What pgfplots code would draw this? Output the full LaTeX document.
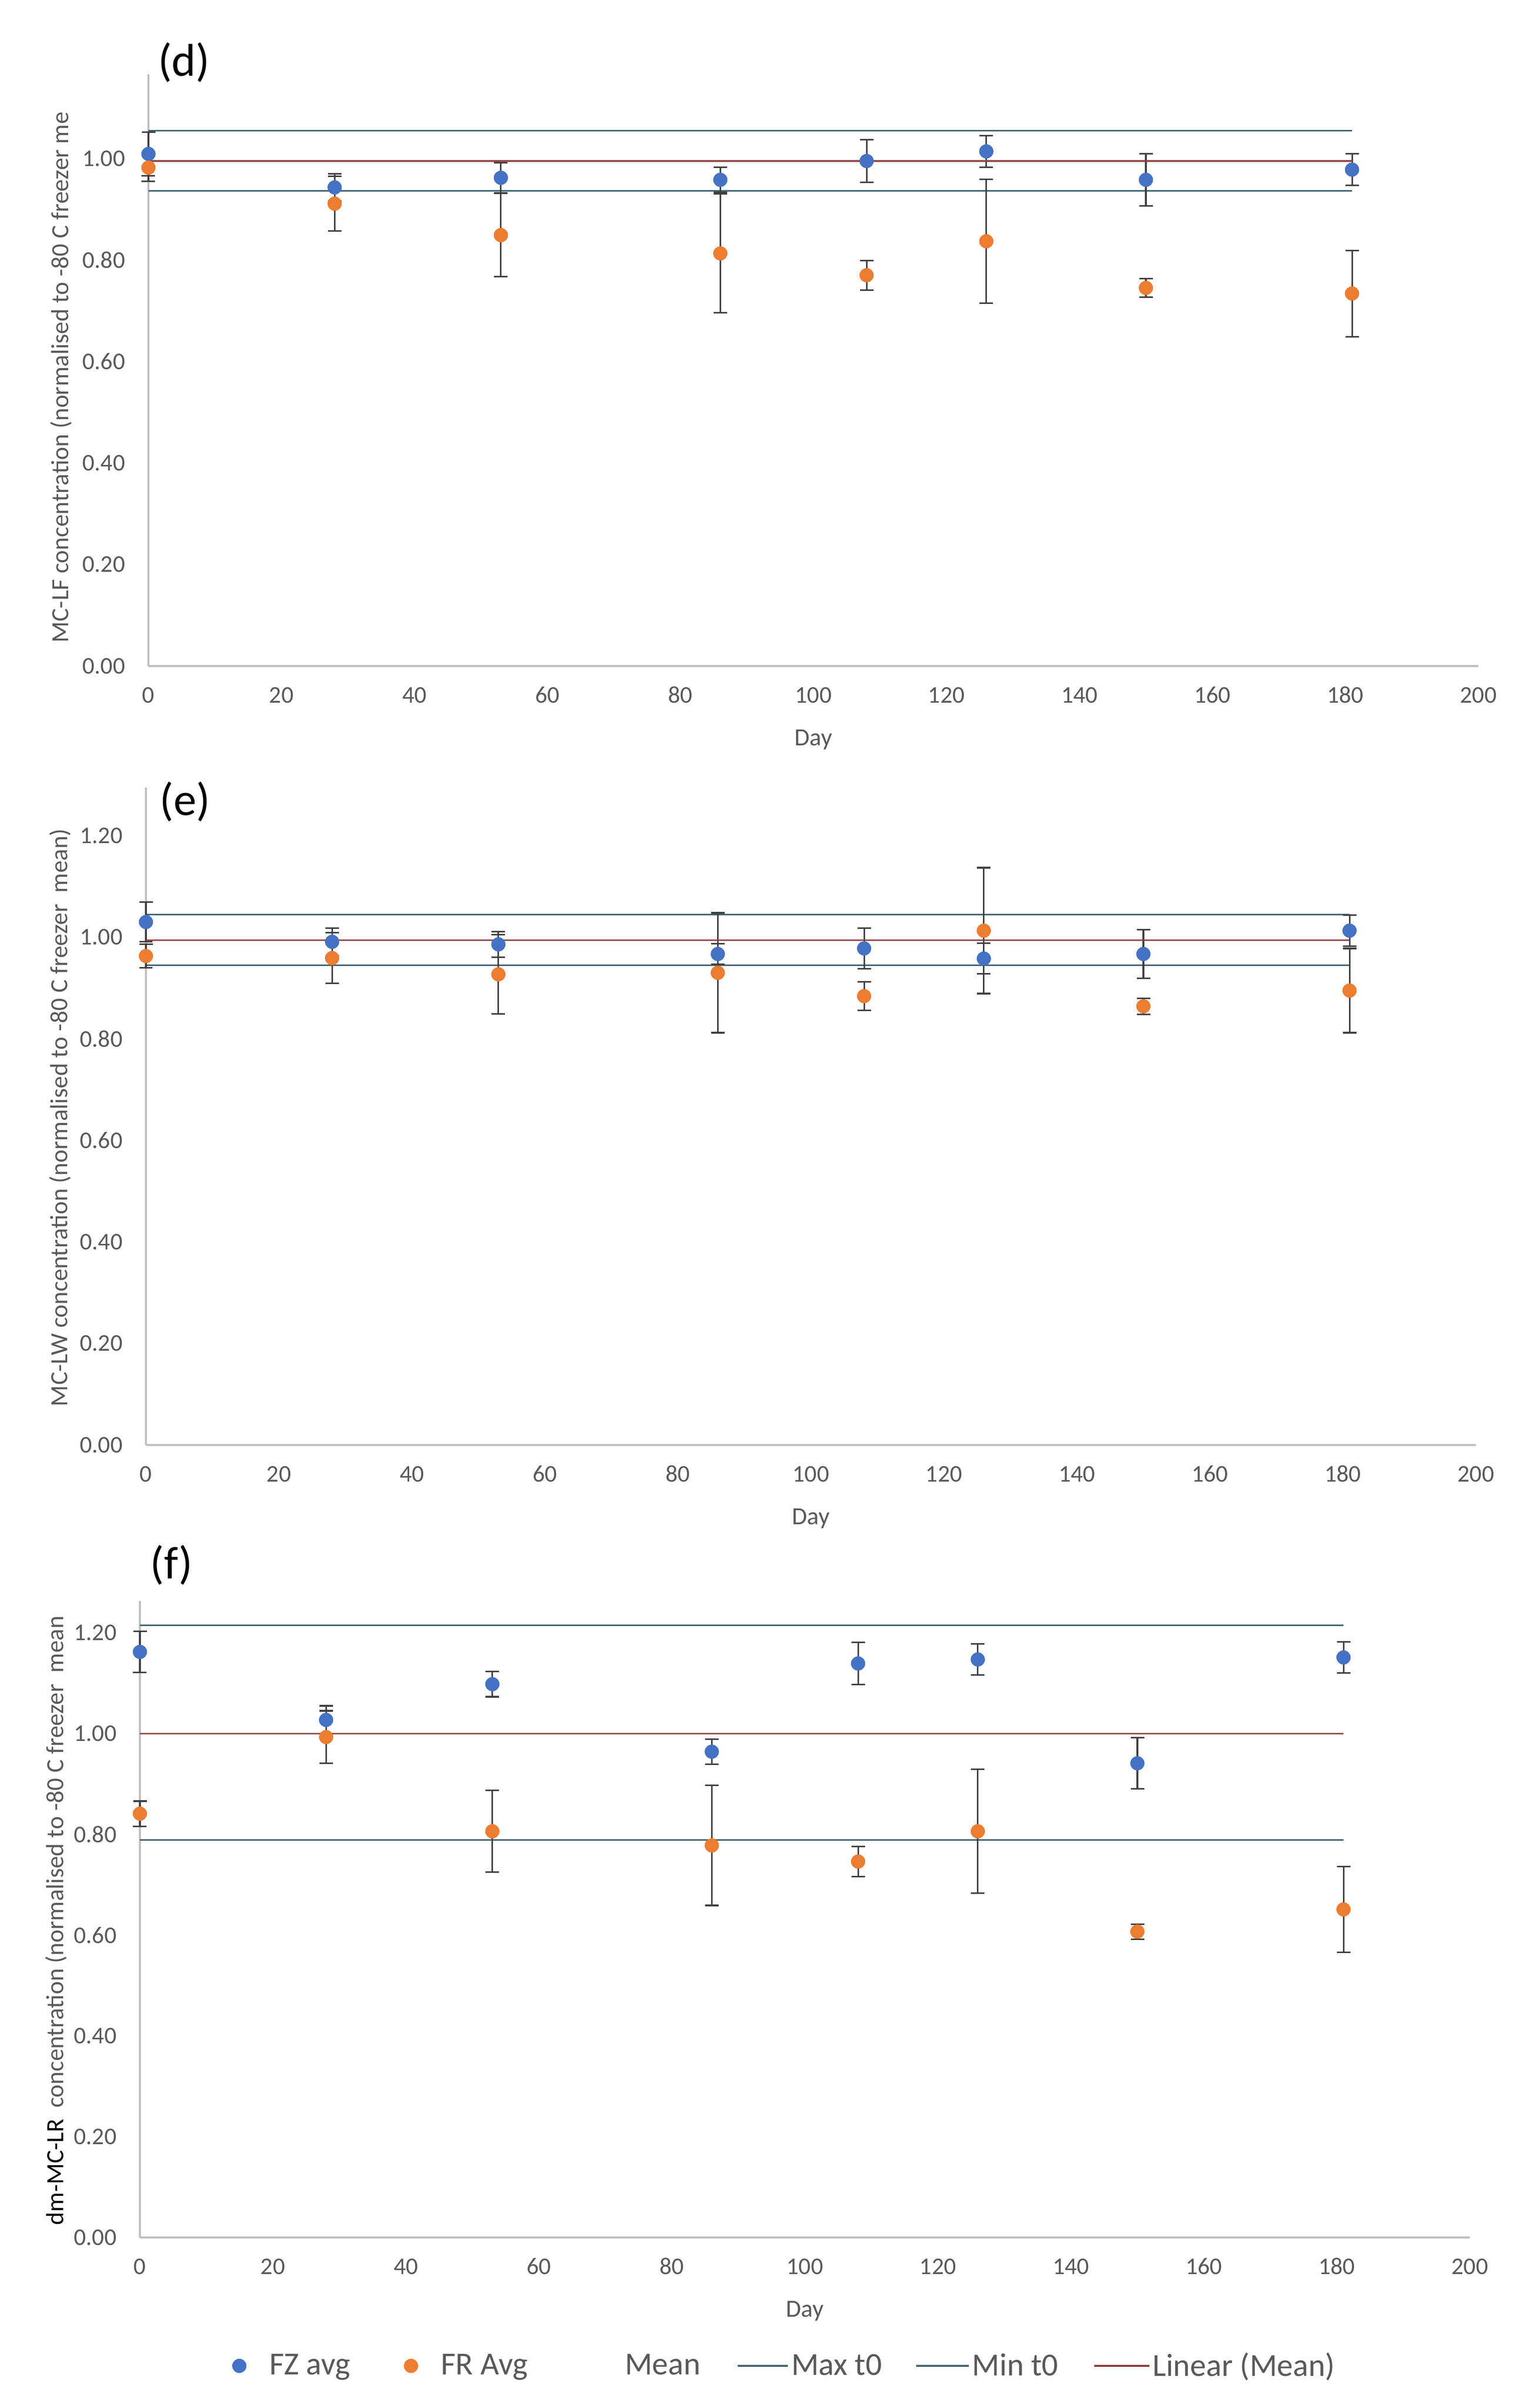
\documentclass[border=0pt]{standalone}
\usepackage{pgfplots}
\pgfplotsset{compat=1.18}
\usepackage{fontspec}
\setmainfont{Carlito}
\definecolor{fz}{HTML}{4472C4}
\definecolor{fr}{HTML}{ED7D31}
\definecolor{lim}{HTML}{3F6470}
\definecolor{meanc}{HTML}{8B3A3A}
\definecolor{errc}{HTML}{404040}
\definecolor{txt}{HTML}{595959}
\definecolor{axc}{HTML}{BFBFBF}
\pgfplotsset{
  panel/.style={
    scale only axis, width=26.52cm, xmin=0, xmax=200, ymin=0,
    axis x line*=bottom, axis y line*=left,
    axis line style={-, draw=axc, line width=0.9pt},
    xtick={0,20,40,60,80,100,120,140,160,180,200},
    major tick length=0pt,
    /pgf/number format/assume math mode=true,
    tick label style={font=\fontsize{13.6}{16}\selectfont, text=txt},
    xticklabel style={anchor=base, yshift=-0.73cm, inner sep=0pt},
    yticklabel style={anchor=east, xshift=-0.46cm, inner sep=0pt,
      /pgf/number format/.cd, fixed, fixed zerofill, precision=2},
    xlabel={Day},
    xlabel style={at={(axis description cs:0.5,0)}, anchor=base, yshift=-1.58cm,
      inner sep=0pt, font=\fontsize{14}{17}\selectfont, text=txt},
    clip=false,
  },
  lims/.style={no marks, lim, line width=0.9pt, forget plot},
  meanl/.style={no marks, meanc, line width=0.9pt, opacity=0.9, forget plot},
  pts/.style={only marks, mark=*, mark size=0.135cm, color=#1,
    mark options={draw=#1, fill=#1}, forget plot,
    error bars/.cd, y dir=both, y explicit,
    error bar style={errc, line width=0.9pt},
    error mark options={rotate=90, errc, mark size=0.135cm, line width=0.9pt}},
}
\begin{document}
\begin{tikzpicture}
\useasboundingbox (0,0) rectangle (30.28cm,-48.01cm);

% ---------------- (d) ----------------
\begin{axis}[panel, at={(2.96cm,-13.28cm)}, anchor=south west,
  height=11.80cm, ymax=1.166, ytick={0,0.2,0.4,0.6,0.8,1.0}]
\addplot[lims] coordinates {(0,1.055) (181,1.055)};
\addplot[lims] coordinates {(0,0.936) (181,0.936)};
\addplot[pts=fz] coordinates {
 (0,1.009) +- (0,0.043)
 (28,0.943) +- (0,0.027)
 (53,0.962) +- (0,0.030)
 (86,0.958) +- (0,0.025)
 (108,0.995) +- (0,0.042)
 (126,1.014) +- (0,0.031)
 (150,0.958) +- (0,0.051)
 (181,0.978) +- (0,0.031)};
\addplot[pts=fr] coordinates {
 (0,0.982) +- (0,0.027)
 (28,0.911) +- (0,0.054)
 (53,0.849) +- (0,0.082)
 (86,0.813) +- (0,0.117)
 (108,0.770) +- (0,0.029)
 (126,0.837) +- (0,0.122)
 (150,0.745) +- (0,0.018)
 (181,0.734) +- (0,0.085)};
\addplot[meanl] coordinates {(0,0.995) (181,0.995)};
\end{axis}

% ---------------- (e) ----------------
\begin{axis}[panel, at={(2.91cm,-28.81cm)}, anchor=south west,
  height=13.11cm, ymax=1.295, ytick={0,0.2,0.4,0.6,0.8,1.0,1.2}]
\addplot[lims] coordinates {(0,1.045) (181,1.045)};
\addplot[lims] coordinates {(0,0.945) (181,0.945)};
\addplot[pts=fz] coordinates {
 (0,1.030) +- (0,0.039)
 (28,0.991) +- (0,0.027)
 (53,0.986) +- (0,0.025)
 (86,0.967) +- (0,0.020)
 (108,0.978) +- (0,0.040)
 (126,0.958) +- (0,0.030)
 (150,0.967) +- (0,0.048)
 (181,1.013) +- (0,0.031)};
\addplot[pts=fr] coordinates {
 (0,0.963) +- (0,0.023)
 (28,0.959) +- (0,0.050)
 (53,0.927) +- (0,0.078)
 (86,0.930) +- (0,0.118)
 (108,0.884) +- (0,0.028)
 (126,1.013) +- (0,0.124)
 (150,0.864) +- (0,0.016)
 (181,0.895) +- (0,0.083)};
\addplot[meanl] coordinates {(0,0.994) (181,0.994)};
\end{axis}

% ---------------- (f) ----------------
\begin{axis}[panel, at={(2.79cm,-44.61cm)}, anchor=south west,
  height=12.69cm, ymax=1.263, ytick={0,0.2,0.4,0.6,0.8,1.0,1.2},
  legend style={at={(rel axis cs:0.0694,-0.2017)}, anchor=west, draw=none, fill=none,
    inner sep=0pt, outer sep=0pt, font=\fontsize{18.2}{22}\selectfont, text=txt,
    nodes={inner sep=0.05cm},
    /tikz/column 2/.style={column sep=1.02cm},
    /tikz/column 4/.style={column sep=0.84cm},
    /tikz/column 6/.style={column sep=0.68cm},
    /tikz/column 8/.style={column sep=0.62cm},
    /tikz/column 10/.style={column sep=0.65cm}},
  legend columns=6, legend cell align=left]
\addlegendimage{legend image code/.code={\path[draw=none,fill=none] (0cm,0cm) (0.55cm,0cm); \fill[fz] (0.0cm,0cm) circle (0.135cm);}}
\addlegendimage{legend image code/.code={\path[draw=none,fill=none] (0cm,0cm) (0.55cm,0cm); \fill[fr] (0.0cm,0cm) circle (0.135cm);}}
\addlegendimage{legend image code/.code={\path[draw=none,fill=none] (0cm,0cm) (1cm,0cm);}}
\addlegendimage{legend image code/.code={\draw[lim, line width=0.9pt] (0cm,0cm) -- (1cm,0cm);}}
\addlegendimage{legend image code/.code={\draw[lim, line width=0.9pt] (0cm,0cm) -- (1.05cm,0cm);}}
\addlegendimage{legend image code/.code={\draw[meanc, line width=0.9pt] (0cm,0cm) -- (1.1cm,0cm);}}
\addplot[lims] coordinates {(0,1.215) (181,1.215)};
\addplot[lims] coordinates {(0,0.789) (181,0.789)};
\addplot[pts=fz] coordinates {
 (0,1.162) +- (0,0.041)
 (28,1.027) +- (0,0.028)
 (53,1.098) +- (0,0.025)
 (86,0.964) +- (0,0.025)
 (108,1.139) +- (0,0.042)
 (126,1.147) +- (0,0.031)
 (150,0.941) +- (0,0.051)
 (181,1.151) +- (0,0.031)};
\addplot[pts=fr] coordinates {
 (0,0.841) +- (0,0.025)
 (28,0.993) +- (0,0.052)
 (53,0.806) +- (0,0.081)
 (86,0.778) +- (0,0.119)
 (108,0.746) +- (0,0.030)
 (126,0.806) +- (0,0.123)
 (150,0.607) +- (0,0.015)
 (181,0.651) +- (0,0.085)};
\addplot[meanl] coordinates {(0,1.000) (181,1.000)};
\legend{FZ avg, FR Avg, Mean, Max t0, Min t0, Linear (Mean)}
\end{axis}

% ---------- y labels and panel letters ----------
\node[rotate=90, anchor=west, inner sep=0pt, text=txt, font=\fontsize{14}{17}\selectfont]
  at (1.22cm,-12.82cm) {MC-LF concentration (normalised to -80 C freezer me};
\node[rotate=90, anchor=center, inner sep=0pt, text=txt, font=\fontsize{14}{17}\selectfont]
  at (1.20cm,-22.28cm) {MC-LW concentration (normalised to -80 C freezer\ \ mean)};
\node[rotate=90, anchor=center, inner sep=0pt, text=txt, font=\fontsize{14}{17}\selectfont]
  at (1.12cm,-38.29cm) {\textcolor{black}{dm-MC-LR}\ \ concentration (normalised to -80 C freezer\ \ mean};
\node[font=\fontsize{26}{30}\selectfont] at (3.67cm,-1.24cm) {(d)};
\node[font=\fontsize{26}{30}\selectfont] at (3.69cm,-15.98cm) {(e)};
\node[font=\fontsize{26}{30}\selectfont] at (3.42cm,-31.20cm) {(f)};
\end{tikzpicture}
\end{document}
